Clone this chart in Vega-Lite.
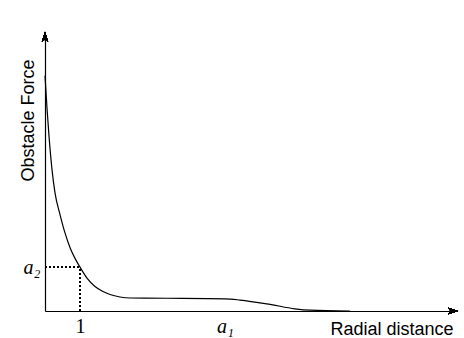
{
  "$schema": "https://vega.github.io/schema/vega-lite/v6.json",
  "autosize": "none",
  "width": 408,
  "height": 274,
  "padding": {"left": 45, "top": 37, "right": 11, "bottom": 27},
  "background": "white",
  "config": {"view": {"stroke": null}},
  "data": {"values": [
    {"r": 0.0, "f": 8.59},
    {"r": 0.057, "f": 7.41},
    {"r": 0.114, "f": 6.39},
    {"r": 0.2, "f": 5.16},
    {"r": 0.286, "f": 4.31},
    {"r": 0.429, "f": 3.52},
    {"r": 0.571, "f": 2.85},
    {"r": 0.714, "f": 2.32},
    {"r": 0.857, "f": 1.92},
    {"r": 1.0, "f": 1.6},
    {"r": 1.2, "f": 1.2},
    {"r": 1.429, "f": 0.894},
    {"r": 1.629, "f": 0.73},
    {"r": 1.857, "f": 0.602},
    {"r": 2.143, "f": 0.511},
    {"r": 2.429, "f": 0.474},
    {"r": 3.5, "f": 0.465},
    {"r": 5.143, "f": 0.445},
    {"r": 5.57, "f": 0.4},
    {"r": 6.43, "f": 0.24},
    {"r": 7.14, "f": 0.08},
    {"r": 7.57, "f": 0.03},
    {"r": 8.71, "f": 0.0}
  ]},
  "layer": [
    {
      "mark": {"type": "rule", "strokeDash": [1.5, 2.5], "strokeWidth": 1, "color": "black"},
      "encoding": {
        "x": {"datum": 0, "type": "quantitative", "scale": {"domain": [0, 11.657]}},
        "x2": {"datum": 1},
        "y": {"datum": 1.6, "type": "quantitative", "scale": {"domain": [0, 10]}}
      }
    },
    {
      "mark": {"type": "rule", "strokeDash": [1.5, 2.5], "strokeWidth": 1, "color": "black"},
      "encoding": {
        "x": {"datum": 1, "type": "quantitative"},
        "y": {"datum": 0, "type": "quantitative"},
        "y2": {"datum": 1.6}
      }
    },
    {
      "mark": {"type": "line", "interpolate": "monotone", "color": "black", "strokeWidth": 1.2},
      "encoding": {
        "x": {
          "field": "r", "type": "quantitative",
          "scale": {"domain": [0, 11.657], "nice": false, "zero": false},
          "axis": {
            "values": [1, 5.143],
            "labelExpr": "datum.value == 1 ? '1' : 'a₁'",
            "labelFont": "Liberation Serif",
            "labelFontSize": 20,
            "labelFontStyle": {"condition": {"test": "datum.value > 2", "value": "italic"}, "value": "normal"},
            "labelColor": "black",
            "labelPadding": 5,
            "labelBaseline": "top",
            "ticks": false,
            "grid": false,
            "domainColor": "black",
            "domainWidth": 1.2,
            "title": "Radial distance",
            "titleFont": "Liberation Sans",
            "titleFontSize": 18,
            "titleFontWeight": "normal",
            "titleColor": "black",
            "titleAlign": "right",
            "titleBaseline": "alphabetic",
            "titleX": 408,
            "titleY": 23
          }
        },
        "y": {
          "field": "f", "type": "quantitative",
          "scale": {"domain": [0, 10], "nice": false, "zero": false},
          "axis": {
            "values": [1.6],
            "labelExpr": "'a₂'",
            "labelFont": "Liberation Serif",
            "labelFontSize": 20,
            "labelFontStyle": "italic",
            "labelColor": "black",
            "labelPadding": 5,
            "labelBaseline": "middle",
            "ticks": false,
            "grid": false,
            "domainColor": "black",
            "domainWidth": 1.2,
            "title": "Obstacle Force",
            "titleFont": "Liberation Sans",
            "titleFontSize": 18,
            "titleFontWeight": "normal",
            "titleColor": "black",
            "titleAngle": -90,
            "titleAlign": "center",
            "titleBaseline": "alphabetic",
            "titleX": -12,
            "titleY": 83
          }
        }
      }
    },
    {
      "mark": {"type": "point", "shape": "M1,0L-0.9,0.6L-0.5,0L-0.9,-0.6Z", "filled": true, "color": "black", "size": 110, "opacity": 1},
      "encoding": {
        "x": {"datum": 11.657, "type": "quantitative"},
        "y": {"datum": 0, "type": "quantitative"}
      }
    },
    {
      "mark": {"type": "point", "shape": "M0,-1L0.6,0.9L0,0.5L-0.6,0.9Z", "filled": true, "color": "black", "size": 110, "opacity": 1},
      "encoding": {
        "x": {"datum": 0, "type": "quantitative"},
        "y": {"datum": 10, "type": "quantitative"}
      }
    }
  ]
}
